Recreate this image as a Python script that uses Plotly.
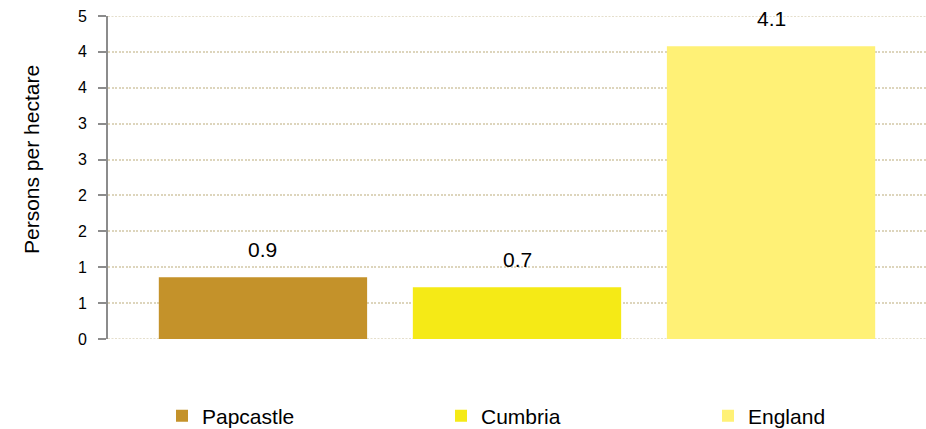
import plotly.graph_objects as go

areas = ["Papcastle", "Cumbria", "England"]
density = [0.86, 0.72, 4.08]
colors = ["#C4922A", "#F5EA16", "#FFF176"]
tick_vals = [0, 0.5, 1, 1.5, 2, 2.5, 3, 3.5, 4, 4.5]
tick_text = ["0", "1", "1", "2", "2", "3", "3", "4", "4", "5"]
y_title = "Persons per hectare"
legend_x_px = [162, 441, 708]

FONT = "Liberation Sans, Arial, sans-serif"
W, H = 926, 429
GRID = "#DDD5BC"
DASH = "2px,1.5px"

fig = go.Figure()
legend_layout = {}
for i, (name, val, col) in enumerate(zip(areas, density, colors)):
    lg = "legend" if i == 0 else f"legend{i + 1}"
    fig.add_trace(go.Bar(x=[name], y=[val], name=name, marker=dict(color=col, line=dict(width=0)),
                         width=0.82, hoverinfo="skip", legend=lg))
    fig.add_annotation(x=name, y=val, text=f"{val:.1f}", showarrow=False, yanchor="middle",
                       yshift=28, font=dict(family=FONT, size=21, color="#000000"))
    legend_layout[lg] = dict(orientation="h", xref="container", yref="container",
                             x=legend_x_px[i] / W, y=(H - 416) / H,
                             xanchor="left", yanchor="middle",
                             font=dict(family=FONT, size=21, color="#000000"),
                             itemclick=False, bgcolor="rgba(0,0,0,0)")

# gridlines at the two ends of the value range (Plotly skips them at the edges)
for yv in (tick_vals[0], tick_vals[-1]):
    fig.add_shape(type="line", xref="paper", yref="y", x0=0, x1=1, y0=yv, y1=yv,
                  line=dict(color=GRID, width=1.5, dash=DASH), layer="below")

# y-axis title (placed as rotated text, centred where the reference has it)
fig.add_annotation(xref="paper", yref="paper", x=-77 / 818, y=(339 - 160) / 323,
                   text=y_title, textangle=-90, showarrow=False,
                   xanchor="center", yanchor="middle",
                   font=dict(family=FONT, size=21, color="#000000"))

fig.update_layout(
    width=W, height=H,
    margin=dict(l=108, r=0, t=16, b=90),
    paper_bgcolor="white", plot_bgcolor="white",
    barmode="overlay",
    font=dict(family=FONT, size=16, color="#000000"),
    showlegend=True,
    **legend_layout,
)
fig.update_xaxes(range=[-0.61, 2.61], showticklabels=False, showgrid=False, zeroline=False,
                 showline=False, ticks="", automargin=False)
fig.update_yaxes(range=[0, 4.5], tickvals=tick_vals, ticktext=tick_text, automargin=False,
                 showgrid=True, gridcolor=GRID, griddash=DASH, gridwidth=1.5,
                 zeroline=False, showline=True, linecolor="#8C8C8C", linewidth=2,
                 ticks="outside", ticklen=8, tickcolor="#8C8C8C", tickwidth=2,
                 ticklabelstandoff=8,
                 tickfont=dict(family=FONT, size=16, color="#000000"))

fig.write_html("out.html", config={"displayModeBar": False},
               post_script="document.body.style.margin='0';")
